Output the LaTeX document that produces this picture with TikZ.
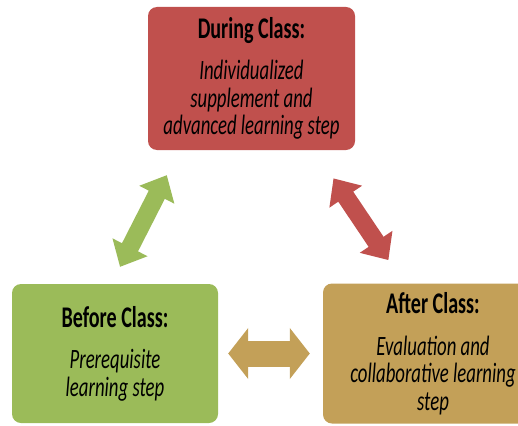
\documentclass[tikz,border=0pt]{standalone}
\usepackage{fontspec}
\setmainfont{Carlito}[FakeStretch=0.67]
\usetikzlibrary{arrows.meta}

\definecolor{classred}{HTML}{C0504D}
\definecolor{classgreen}{HTML}{9BBB59}
\definecolor{classtan}{HTML}{C3A058}

\tikzset{
  phase/.style={rectangle, rounded corners=9pt, align=center, text=black,
    minimum width=207pt, minimum height=141pt,
    font=\fontsize{28}{27.5}\selectfont\itshape},
  link/.style={line width=18pt,
    {Triangle[width=38pt,length=22pt]}-{Triangle[width=38pt,length=22pt]}},
}
\newcommand{\phasehead}[1]{{\upshape\bfseries\fontsize{30}{27.5}\selectfont #1}\\[14pt]}

\begin{document}
\begin{tikzpicture}[x=1pt,y=-1pt,node distance=318pt]
    \useasboundingbox (0,0) rectangle (518,425);

    \node[phase, fill=classred, minimum height=143pt] (during) at (251.5,78.5)
        {\phasehead{During Class:}Individualized\\supplement and\\advanced learning step};
    \node[phase, fill=classgreen, minimum width=206pt, minimum height=139pt] (before) at (115,353.5)
        {\phasehead{Before Class:}Prerequisite\\learning step};
    \node[phase, fill=classtan, minimum width=220pt, minimum height=140pt] (after) [right of=before]
        {\phasehead{After Class:}Evaluation and\\collaborative learning\\step};

    \path[link]
        ([xshift=-3.6pt]before.north) edge [draw=classgreen, shorten <=19pt, shorten >=28pt]
            ([xshift=-72pt]during.south)
        ([xshift=63pt]during.south) edge [draw=classred, shorten <=34pt, shorten >=28pt]
            ([xshift=-29pt]after.north)
        (before.east) edge [draw=classtan, line width=26pt, shorten <=10pt, shorten >=13pt,
            {Triangle[width=50pt,length=20pt]}-{Triangle[width=50pt,length=20pt]}]
            (after.west);
\end{tikzpicture}
\end{document}
